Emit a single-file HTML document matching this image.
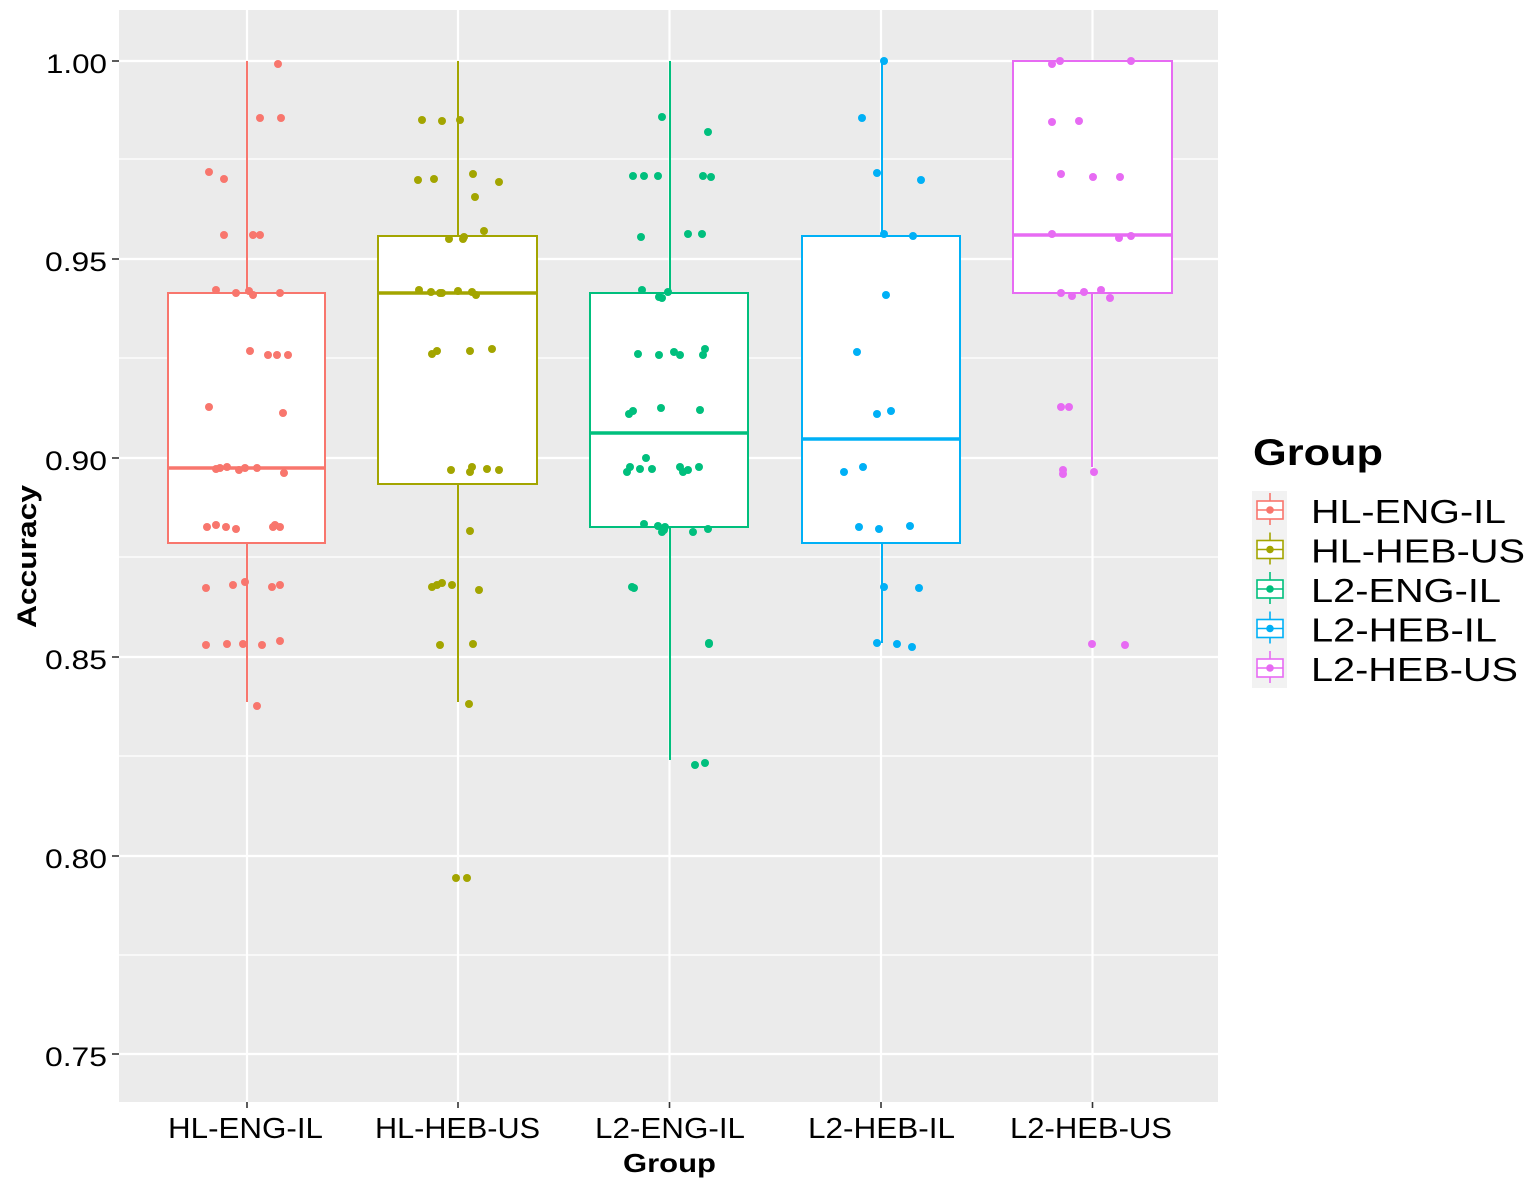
<!DOCTYPE html>
<html>
<head>
<meta charset="utf-8">
<style>
html,body{margin:0;padding:0;background:#fff;}
svg{display:block;}
text{font-family:"Liberation Sans",Arial,sans-serif;fill:#000;}
</style>
</head>
<body>
<svg width="1535" height="1190" viewBox="0 0 1535 1190" xmlns="http://www.w3.org/2000/svg">
<rect x="0" y="0" width="1535" height="1190" fill="#fff"/>
<rect x="119" y="10" width="1099" height="1092" fill="#EBEBEB"/>
<g stroke="#fff" stroke-width="1.2">
<line x1="119" x2="1218" y1="159" y2="159"/>
<line x1="119" x2="1218" y1="358" y2="358"/>
<line x1="119" x2="1218" y1="557" y2="557"/>
<line x1="119" x2="1218" y1="756" y2="756"/>
<line x1="119" x2="1218" y1="955" y2="955"/>
</g>
<g stroke="#fff" stroke-width="2.2">
<line x1="119" x2="1218" y1="61" y2="61"/>
<line x1="119" x2="1218" y1="259" y2="259"/>
<line x1="119" x2="1218" y1="458" y2="458"/>
<line x1="119" x2="1218" y1="657" y2="657"/>
<line x1="119" x2="1218" y1="856" y2="856"/>
<line x1="119" x2="1218" y1="1054" y2="1054"/>
<line x1="247" x2="247" y1="10" y2="1102"/>
<line x1="458" x2="458" y1="10" y2="1102"/>
<line x1="669.5" x2="669.5" y1="10" y2="1102"/>
<line x1="881" x2="881" y1="10" y2="1102"/>
<line x1="1092.5" x2="1092.5" y1="10" y2="1102"/>
</g>

<g fill="#fff" stroke-width="2">
<g stroke="#F8766D">
<line x1="247" x2="247" y1="61" y2="293"/>
<line x1="247" x2="247" y1="543" y2="702"/>
<rect x="168" y="293" width="157" height="250"/>
<line x1="168" x2="325" y1="468" y2="468" stroke-width="3.5"/>
</g>
<g stroke="#A3A500">
<line x1="458" x2="458" y1="61" y2="236"/>
<line x1="458" x2="458" y1="484" y2="702"/>
<rect x="378" y="236" width="159" height="248"/>
<line x1="378" x2="537" y1="293" y2="293" stroke-width="3.5"/>
</g>
<g stroke="#00BF7D">
<line x1="670" x2="670" y1="61" y2="293"/>
<line x1="670" x2="670" y1="527" y2="760"/>
<rect x="590" y="293" width="158" height="234"/>
<line x1="590" x2="748" y1="433" y2="433" stroke-width="3.5"/>
</g>
<g stroke="#00B0F6">
<line x1="882" x2="882" y1="61" y2="236"/>
<line x1="882" x2="882" y1="543" y2="643"/>
<rect x="802" y="236" width="158" height="307"/>
<line x1="802" x2="960" y1="439" y2="439" stroke-width="3.5"/>
</g>
<g stroke="#E76BF3">
<line x1="1092" x2="1092" y1="293" y2="467"/>
<rect x="1013" y="61" width="159" height="232"/>
<line x1="1013" x2="1172" y1="235" y2="235" stroke-width="3.5"/>
</g>
</g>

<g fill="#F8766D">
<circle cx="278" cy="64" r="4"/><circle cx="260" cy="118" r="4"/><circle cx="281" cy="118" r="4"/><circle cx="209" cy="172" r="4"/><circle cx="224" cy="179" r="4"/><circle cx="224" cy="235" r="4"/><circle cx="253" cy="235" r="4"/><circle cx="260" cy="235" r="4"/><circle cx="216" cy="290" r="4"/><circle cx="236" cy="293" r="4"/><circle cx="249" cy="291" r="4"/><circle cx="253" cy="295" r="4"/><circle cx="280" cy="293" r="4"/><circle cx="250" cy="351" r="4"/><circle cx="268" cy="355" r="4"/><circle cx="277" cy="355" r="4"/><circle cx="288" cy="355" r="4"/><circle cx="209" cy="407" r="4"/><circle cx="283" cy="413" r="4"/><circle cx="216" cy="469" r="4"/><circle cx="220" cy="468" r="4"/><circle cx="227" cy="467" r="4"/><circle cx="239" cy="470" r="4"/><circle cx="245" cy="468" r="4"/><circle cx="257" cy="468" r="4"/><circle cx="284" cy="473" r="4"/><circle cx="207" cy="527" r="4"/><circle cx="216" cy="525" r="4"/><circle cx="226" cy="527" r="4"/><circle cx="236" cy="529" r="4"/><circle cx="275" cy="525" r="4"/><circle cx="273" cy="527" r="4"/><circle cx="280" cy="527" r="4"/><circle cx="206" cy="588" r="4"/><circle cx="233" cy="585" r="4"/><circle cx="245" cy="582" r="4"/><circle cx="272" cy="587" r="4"/><circle cx="280" cy="585" r="4"/><circle cx="206" cy="645" r="4"/><circle cx="227" cy="644" r="4"/><circle cx="243" cy="644" r="4"/><circle cx="262" cy="645" r="4"/><circle cx="280" cy="641" r="4"/><circle cx="257" cy="706" r="4"/>
</g>
<g fill="#A3A500">
<circle cx="422" cy="120" r="4"/><circle cx="442" cy="121" r="4"/><circle cx="460" cy="120" r="4"/><circle cx="418" cy="180" r="4"/><circle cx="434" cy="179" r="4"/><circle cx="473" cy="174" r="4"/><circle cx="499" cy="182" r="4"/><circle cx="475" cy="197" r="4"/><circle cx="484" cy="231" r="4"/><circle cx="449" cy="239" r="4"/><circle cx="463" cy="239" r="4"/><circle cx="464" cy="237" r="4"/><circle cx="419" cy="290" r="4"/><circle cx="431" cy="292" r="4"/><circle cx="440" cy="293" r="4"/><circle cx="442" cy="293" r="4"/><circle cx="458" cy="291" r="4"/><circle cx="472" cy="292" r="4"/><circle cx="476" cy="295" r="4"/><circle cx="432" cy="354" r="4"/><circle cx="437" cy="351" r="4"/><circle cx="470" cy="351" r="4"/><circle cx="492" cy="349" r="4"/><circle cx="451" cy="470" r="4"/><circle cx="470" cy="472" r="4"/><circle cx="472" cy="467" r="4"/><circle cx="487" cy="469" r="4"/><circle cx="499" cy="470" r="4"/><circle cx="470" cy="531" r="4"/><circle cx="432" cy="587" r="4"/><circle cx="437" cy="585" r="4"/><circle cx="442" cy="583" r="4"/><circle cx="452" cy="585" r="4"/><circle cx="479" cy="590" r="4"/><circle cx="440" cy="645" r="4"/><circle cx="473" cy="644" r="4"/><circle cx="469" cy="704" r="4"/><circle cx="456" cy="878" r="4"/><circle cx="467" cy="878" r="4"/>
</g>
<g fill="#00BF7D">
<circle cx="662" cy="117" r="4"/><circle cx="708" cy="132" r="4"/><circle cx="633" cy="176" r="4"/><circle cx="644" cy="176" r="4"/><circle cx="658" cy="176" r="4"/><circle cx="703" cy="176" r="4"/><circle cx="711" cy="177" r="4"/><circle cx="641" cy="237" r="4"/><circle cx="688" cy="234" r="4"/><circle cx="702" cy="234" r="4"/><circle cx="642" cy="290" r="4"/><circle cx="668" cy="292" r="4"/><circle cx="659" cy="297" r="4"/><circle cx="662" cy="298" r="4"/><circle cx="638" cy="354" r="4"/><circle cx="659" cy="355" r="4"/><circle cx="674" cy="352" r="4"/><circle cx="680" cy="355" r="4"/><circle cx="705" cy="349" r="4"/><circle cx="703" cy="355" r="4"/><circle cx="629" cy="414" r="4"/><circle cx="633" cy="411" r="4"/><circle cx="661" cy="408" r="4"/><circle cx="700" cy="410" r="4"/><circle cx="646" cy="458" r="4"/><circle cx="627" cy="472" r="4"/><circle cx="630" cy="467" r="4"/><circle cx="640" cy="469" r="4"/><circle cx="652" cy="469" r="4"/><circle cx="680" cy="467" r="4"/><circle cx="683" cy="472" r="4"/><circle cx="688" cy="470" r="4"/><circle cx="699" cy="467" r="4"/><circle cx="644" cy="524" r="4"/><circle cx="658" cy="526" r="4"/><circle cx="662" cy="532" r="4"/><circle cx="665" cy="527" r="4"/><circle cx="664" cy="530" r="4"/><circle cx="693" cy="532" r="4"/><circle cx="708" cy="529" r="4"/><circle cx="632" cy="587" r="4"/><circle cx="634" cy="588" r="4"/><circle cx="709" cy="643" r="4"/><circle cx="709" cy="644" r="4"/><circle cx="695" cy="765" r="4"/><circle cx="705" cy="763" r="4"/>
</g>
<g fill="#00B0F6">
<circle cx="884" cy="61" r="4"/><circle cx="862" cy="118" r="4"/><circle cx="877" cy="173" r="4"/><circle cx="921" cy="180" r="4"/><circle cx="884" cy="234" r="4"/><circle cx="913" cy="236" r="4"/><circle cx="886" cy="295" r="4"/><circle cx="857" cy="352" r="4"/><circle cx="877" cy="414" r="4"/><circle cx="891" cy="411" r="4"/><circle cx="844" cy="472" r="4"/><circle cx="863" cy="467" r="4"/><circle cx="859" cy="527" r="4"/><circle cx="879" cy="529" r="4"/><circle cx="910" cy="526" r="4"/><circle cx="884" cy="587" r="4"/><circle cx="919" cy="588" r="4"/><circle cx="877" cy="643" r="4"/><circle cx="897" cy="644" r="4"/><circle cx="912" cy="647" r="4"/>
</g>
<g fill="#E76BF3">
<circle cx="1052" cy="64" r="4"/><circle cx="1060" cy="61" r="4"/><circle cx="1131" cy="61" r="4"/><circle cx="1052" cy="122" r="4"/><circle cx="1079" cy="121" r="4"/><circle cx="1061" cy="174" r="4"/><circle cx="1093" cy="177" r="4"/><circle cx="1120" cy="177" r="4"/><circle cx="1052" cy="234" r="4"/><circle cx="1119" cy="238" r="4"/><circle cx="1131" cy="236" r="4"/><circle cx="1061" cy="293" r="4"/><circle cx="1072" cy="296" r="4"/><circle cx="1084" cy="292" r="4"/><circle cx="1101" cy="290" r="4"/><circle cx="1110" cy="298" r="4"/><circle cx="1061" cy="407" r="4"/><circle cx="1069" cy="407" r="4"/><circle cx="1063" cy="470" r="4"/><circle cx="1063" cy="474" r="4"/><circle cx="1094" cy="472" r="4"/><circle cx="1092" cy="644" r="4"/><circle cx="1125" cy="645" r="4"/>
</g>

<g stroke="#333" stroke-width="1.6">
<line x1="112" x2="119" y1="61" y2="61"/>
<line x1="112" x2="119" y1="259" y2="259"/>
<line x1="112" x2="119" y1="458" y2="458"/>
<line x1="112" x2="119" y1="657" y2="657"/>
<line x1="112" x2="119" y1="856" y2="856"/>
<line x1="112" x2="119" y1="1054" y2="1054"/>
<line x1="247" x2="247" y1="1102" y2="1108"/>
<line x1="458" x2="458" y1="1102" y2="1108"/>
<line x1="669.5" x2="669.5" y1="1102" y2="1108"/>
<line x1="881" x2="881" y1="1102" y2="1108"/>
<line x1="1092.5" x2="1092.5" y1="1102" y2="1108"/>
</g>

<g font-size="27" text-anchor="end">
<text x="107" y="73" textLength="61" lengthAdjust="spacingAndGlyphs">1.00</text>
<text x="107" y="271" textLength="62" lengthAdjust="spacingAndGlyphs">0.95</text>
<text x="107" y="470" textLength="62" lengthAdjust="spacingAndGlyphs">0.90</text>
<text x="107" y="669" textLength="62" lengthAdjust="spacingAndGlyphs">0.85</text>
<text x="107" y="868" textLength="62" lengthAdjust="spacingAndGlyphs">0.80</text>
<text x="107" y="1066" textLength="62" lengthAdjust="spacingAndGlyphs">0.75</text>
</g>

<g font-size="29">
<text x="168" y="1138" textLength="155" lengthAdjust="spacingAndGlyphs">HL-ENG-IL</text>
<text x="375" y="1138" textLength="165" lengthAdjust="spacingAndGlyphs">HL-HEB-US</text>
<text x="595" y="1138" textLength="150" lengthAdjust="spacingAndGlyphs">L2-ENG-IL</text>
<text x="808" y="1138" textLength="147" lengthAdjust="spacingAndGlyphs">L2-HEB-IL</text>
<text x="1010" y="1138" textLength="162" lengthAdjust="spacingAndGlyphs">L2-HEB-US</text>
</g>

<text x="623" y="1172" font-size="26" font-weight="bold" textLength="93" lengthAdjust="spacingAndGlyphs">Group</text>
<text transform="translate(36,628) rotate(-90)" x="0" y="0" font-size="27" font-weight="bold" textLength="143" lengthAdjust="spacingAndGlyphs">Accuracy</text>

<text x="1253" y="465" font-size="37" font-weight="bold" textLength="130" lengthAdjust="spacingAndGlyphs">Group</text>
<rect x="1252" y="491" width="35" height="197" fill="#F2F2F2"/>
<g fill="#fff" stroke-width="1.6">
<g stroke="#F8766D"><line x1="1270" x2="1270" y1="493" y2="525"/><rect x="1257" y="501" width="26" height="18"/><line x1="1257" x2="1283" y1="510" y2="510"/></g>
<g stroke="#A3A500"><line x1="1270" x2="1270" y1="532.5" y2="564.5"/><rect x="1257" y="540.5" width="26" height="18"/><line x1="1257" x2="1283" y1="549.5" y2="549.5"/></g>
<g stroke="#00BF7D"><line x1="1270" x2="1270" y1="572" y2="604"/><rect x="1257" y="580" width="26" height="18"/><line x1="1257" x2="1283" y1="589" y2="589"/></g>
<g stroke="#00B0F6"><line x1="1270" x2="1270" y1="611.5" y2="643.5"/><rect x="1257" y="619.5" width="26" height="18"/><line x1="1257" x2="1283" y1="628.5" y2="628.5"/></g>
<g stroke="#E76BF3"><line x1="1270" x2="1270" y1="651" y2="683"/><rect x="1257" y="659" width="26" height="18"/><line x1="1257" x2="1283" y1="668" y2="668"/></g>
</g>
<circle cx="1270" cy="510" r="3.8" fill="#F8766D"/>
<circle cx="1270" cy="549.5" r="3.8" fill="#A3A500"/>
<circle cx="1270" cy="589" r="3.8" fill="#00BF7D"/>
<circle cx="1270" cy="628.5" r="3.8" fill="#00B0F6"/>
<circle cx="1270" cy="668" r="3.8" fill="#E76BF3"/>
<g font-size="33">
<text x="1311" y="523" textLength="195" lengthAdjust="spacingAndGlyphs">HL-ENG-IL</text>
<text x="1311" y="562.5" textLength="214" lengthAdjust="spacingAndGlyphs">HL-HEB-US</text>
<text x="1311" y="602" textLength="190" lengthAdjust="spacingAndGlyphs">L2-ENG-IL</text>
<text x="1311" y="641.5" textLength="186" lengthAdjust="spacingAndGlyphs">L2-HEB-IL</text>
<text x="1311" y="681" textLength="207" lengthAdjust="spacingAndGlyphs">L2-HEB-US</text>
</g>
</svg>
</body>
</html>
